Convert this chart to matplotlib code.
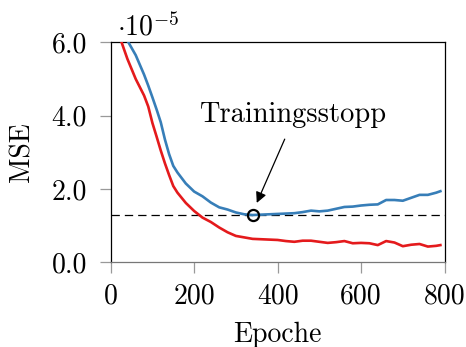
import matplotlib
matplotlib.use("Agg")
import matplotlib.pyplot as plt
from matplotlib.ticker import FixedLocator, FixedFormatter

plt.rcParams['font.family'] = 'cmr10'
plt.rcParams['mathtext.fontset'] = 'cm'
plt.rcParams['axes.unicode_minus'] = False
plt.rcParams['axes.formatter.use_mathtext'] = True
plt.rcParams['lines.scale_dashes'] = False

# Data (MSE in units of 1e-5)
epochs = [0, 20, 40, 60, 80, 90, 100, 110, 120, 130, 140, 150, 160, 170, 180,
          200, 220, 240, 260, 280, 300, 320, 340, 360, 380, 400, 420, 440,
          460, 480, 500, 520, 540, 560, 580, 600, 620, 640, 660, 680, 700,
          720, 740, 760, 780, 790]
mse_val = [6.9, 6.45, 6.05, 5.65, 5.12, 4.82, 4.5, 4.17, 3.82, 3.35, 2.95,
           2.63, 2.45, 2.3, 2.15, 1.93, 1.80, 1.63, 1.50, 1.44, 1.36, 1.31,
           1.29, 1.30, 1.31, 1.32, 1.33, 1.34, 1.37, 1.41, 1.39, 1.41, 1.46,
           1.51, 1.52, 1.55, 1.57, 1.58, 1.70, 1.70, 1.68, 1.76, 1.84, 1.84,
           1.90, 1.94]
mse_train = [6.6, 6.2, 5.55, 5.0, 4.55, 4.25, 3.8, 3.43, 3.05, 2.7, 2.38,
             2.08, 1.9, 1.76, 1.62, 1.40, 1.22, 1.10, 0.95, 0.82, 0.72, 0.68,
             0.64, 0.63, 0.62, 0.61, 0.58, 0.56, 0.59, 0.59, 0.56, 0.53, 0.55,
             0.58, 0.52, 0.53, 0.52, 0.47, 0.58, 0.54, 0.44, 0.48, 0.50, 0.43,
             0.45, 0.47]
stop_epoch = 340
stop_mse = 1.29
x_ticks = [0, 200, 400, 600, 800]
x_ticklabels = ['0', '200', '400', '600', '800']
y_ticks = [0.0, 2.0, 4.0, 6.0]
y_ticklabels = ['0.0', '2.0', '4.0', '6.0']

fig = plt.figure(figsize=(4.66, 3.47), dpi=100)
ax = fig.add_axes([0.2375, 0.244, 0.7165, 0.634])

ax.plot(epochs, mse_val, color='#377eb8', lw=1.9, zorder=3)
ax.plot(epochs, mse_train, color='#e41a1c', lw=1.9, zorder=3)
ax.axhline(stop_mse, color='black', lw=0.9, dashes=(6, 3.6), zorder=2)
ax.plot([stop_epoch], [stop_mse], marker='o', ms=8, mfc='none', mec='black',
        mew=1.6, zorder=5)
ax.text(437, 4.02, 'Trainingsstopp', ha='center', va='center', fontsize=20.5)
ax.annotate('', xy=(350, 1.62), xytext=(417, 3.36),
            arrowprops=dict(arrowstyle='-|>', color='black', lw=0.9,
                            mutation_scale=16, shrinkA=0, shrinkB=0))

ax.set_xlim(0, 800)
ax.set_ylim(0, 6.0)
ax.xaxis.set_major_locator(FixedLocator(x_ticks))
ax.xaxis.set_major_formatter(FixedFormatter(x_ticklabels))
ax.yaxis.set_major_locator(FixedLocator(y_ticks))
ax.yaxis.set_major_formatter(FixedFormatter(y_ticklabels))
ax.tick_params(direction='out', length=8, width=0.9, color='#999999',
               labelsize=20, pad=7)
ax.tick_params(axis='y', pad=9)
for s in ax.spines.values():
    s.set_linewidth(0.9)
ax.spines['bottom'].set_color('#777777')

ax.set_xlabel('Epoche', fontsize=20, labelpad=9)
ax.set_ylabel('MSE', fontsize=20, labelpad=12)
ax.text(0.02, 1.005, r'$\cdot 10^{-5}$', transform=ax.transAxes,
        fontsize=20, ha='left', va='bottom')

fig.savefig('out.png', dpi=100)
